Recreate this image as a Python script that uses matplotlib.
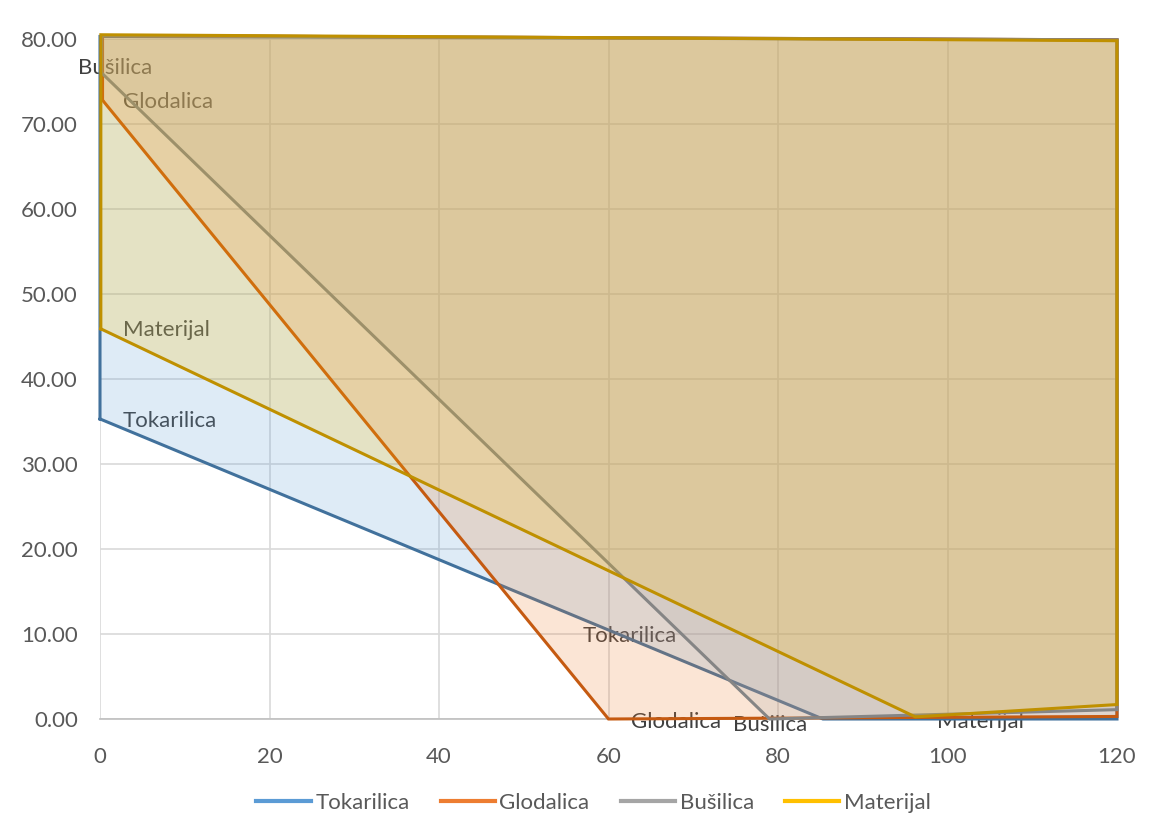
import matplotlib
matplotlib.use("Agg")
import matplotlib.pyplot as plt
from matplotlib.lines import Line2D

plt.rcParams['font.family'] = ['Lato', 'DejaVu Sans']

series_names = ["Tokarilica", "Glodalica", "Bušilica", "Materijal"]
# polygon vertices for each constraint region
tok_x = [0, 85.3, 120, 120, 0, 0]
tok_y = [35.3, 0.0, 0.0, 79.9, 80.3, 35.3]
glo_x = [0.3, 60.0, 120, 120, 0.3, 0.3]
glo_y = [72.8, 0.0, 0.3, 79.9, 80.4, 72.8]
bus_x = [0.2, 79.0, 120, 120, 0.2, 0.2]
bus_y = [76.0, 0.0, 1.1, 79.9, 80.4, 76.0]
mat_x = [0.1, 96.2, 120, 120, 0.1, 0.1]
mat_y = [45.9, 0.25, 1.7, 79.8, 80.5, 45.9]

fill_colors = ["#5B9BD5", "#ED7D31", "#A5A5A5", "#FFC000"]
line_colors = ["#41719C", "#C55A11", "#858585", "#BF9000"]

# data labels (text, x, y)
label_text = ["Bušilica", "Glodalica", "Materijal", "Tokarilica",
              "Tokarilica", "Glodalica", "Bušilica", "Materijal"]
label_x = [-2.6, 2.7, 2.7, 2.7, 57.0, 62.7, 74.7, 98.8]
label_y = [76.6, 72.6, 45.8, 35.1, 9.8, -0.4, -0.7, -0.4]

x_ticks = [0, 20, 40, 60, 80, 100, 120]
y_ticks = [0, 10, 20, 30, 40, 50, 60, 70, 80]

fig = plt.figure(figsize=(11.57, 8.36), dpi=100)
ax = fig.add_axes([100/1157, 1-719/836, 1017/1157, 680/836])

xs = [tok_x, glo_x, bus_x, mat_x]
ys = [tok_y, glo_y, bus_y, mat_y]

for t, lx, ly in zip(label_text, label_x, label_y):
    ax.text(lx, ly, t, fontsize=16, color="#404040", ha="left", va="center",
            zorder=2, clip_on=False)

for i in range(4):
    ax.fill(xs[i], ys[i], color=fill_colors[i], alpha=0.2, lw=0, zorder=3 + i * 0.1,
            clip_on=False)
    ax.plot(xs[i], ys[i], color=line_colors[i], lw=2.2, zorder=3.05 + i * 0.1,
            solid_joinstyle="miter", clip_on=False)

ax.set_xlim(0, 120)
ax.set_ylim(0, 80)
ax.set_xticks(x_ticks)
ax.set_yticks(y_ticks)
ax.set_yticklabels([f"{v:.2f}" for v in y_ticks])
ax.grid(True, color="#D9D9D9", lw=1.2, zorder=0)
ax.set_axisbelow(True)
for s in ["top", "right", "left"]:
    ax.spines[s].set_visible(False)
ax.spines["bottom"].set_color("#BFBFBF")
ax.spines["bottom"].set_linewidth(1.2)
ax.tick_params(length=0, labelsize=16, labelcolor="#595959")
ax.tick_params(axis="y", pad=16)
ax.tick_params(axis="x", pad=20)

handles = [Line2D([0], [0], color=c, lw=3) for c in fill_colors]
fig.legend(handles, series_names, loc="center", bbox_to_anchor=(0.513, 1-803/836),
           ncol=4, frameon=False, fontsize=16, labelcolor="#595959",
           handlelength=2.45, handletextpad=0.2, columnspacing=1.4)

fig.savefig("out.png", dpi=100)
